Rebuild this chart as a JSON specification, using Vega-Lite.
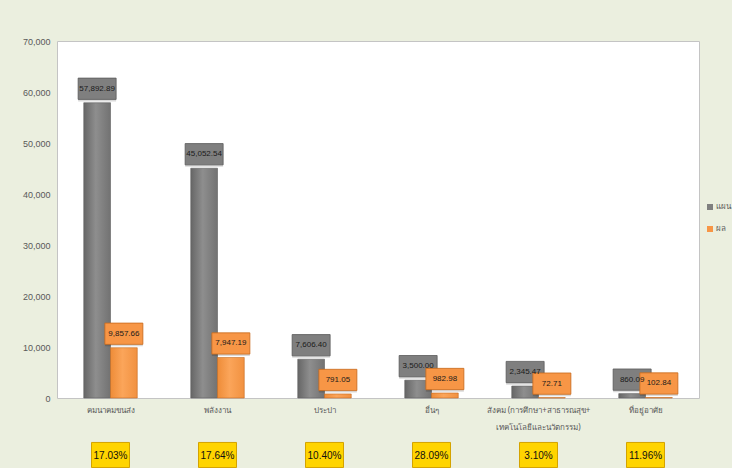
{
  "$schema": "https://vega.github.io/schema/vega-lite/v6.json",
  "autosize": "none",
  "width": 642,
  "height": 357,
  "padding": {"left": 57, "top": 41, "right": 33, "bottom": 70},
  "background": "#ebefdf",
  "config": {
    "view": {"stroke": "#c4c4c4", "fill": "white"},
    "font": "Liberation Sans, sans-serif"
  },
  "datasets": {
    "bars": [
      {"category": "คมนาคมขนส่ง", "series": "แผน", "value": 57892.89},
      {"category": "คมนาคมขนส่ง", "series": "ผล", "value": 9857.66},
      {"category": "พลังงาน", "series": "แผน", "value": 45052.54},
      {"category": "พลังงาน", "series": "ผล", "value": 7947.19},
      {"category": "ประปา", "series": "แผน", "value": 7606.40},
      {"category": "ประปา", "series": "ผล", "value": 791.05},
      {"category": "อื่นๆ", "series": "แผน", "value": 3500.00},
      {"category": "อื่นๆ", "series": "ผล", "value": 982.98},
      {"category": "สังคม (การศึกษา+สาธารณสุข+|เทคโนโลยีและนวัตกรรม)", "series": "แผน", "value": 2345.47},
      {"category": "สังคม (การศึกษา+สาธารณสุข+|เทคโนโลยีและนวัตกรรม)", "series": "ผล", "value": 72.71},
      {"category": "ที่อยู่อาศัย", "series": "แผน", "value": 860.09},
      {"category": "ที่อยู่อาศัย", "series": "ผล", "value": 102.84}
    ],
    "pct": [
      {"category": "คมนาคมขนส่ง", "pct": "17.03%"},
      {"category": "พลังงาน", "pct": "17.64%"},
      {"category": "ประปา", "pct": "10.40%"},
      {"category": "อื่นๆ", "pct": "28.09%"},
      {"category": "สังคม (การศึกษา+สาธารณสุข+|เทคโนโลยีและนวัตกรรม)", "pct": "3.10%"},
      {"category": "ที่อยู่อาศัย", "pct": "11.96%"}
    ]
  },
  "encoding": {
    "x": {
      "field": "category",
      "type": "nominal",
      "sort": null,
      "scale": {"paddingInner": 0.5, "paddingOuter": 0.25},
      "axis": {
        "title": null,
        "labelAngle": 0,
        "domain": false,
        "ticks": false,
        "labelPadding": 8,
        "labelFontSize": 8,
        "labelColor": "#595959",
        "labelLineHeight": 17,
        "labelFont": "Noto Sans, sans-serif",
        "labelExpr": "split(datum.label, '|')"
      }
    }
  },
  "layer": [
    {
      "data": {"name": "bars"},
      "transform": [{"filter": "datum.series == 'แผน'"}],
      "mark": {
        "type": "bar",
        "stroke": "#5e5e5e",
        "strokeWidth": 0.6,
        "color": {
          "gradient": "linear", "x1": 0, "x2": 1, "y1": 0, "y2": 0,
          "stops": [
            {"offset": 0, "color": "#666666"},
            {"offset": 0.45, "color": "#8e8e8e"},
            {"offset": 1, "color": "#727272"}
          ]
        }
      },
      "encoding": {
        "xOffset": {"field": "series", "type": "nominal", "scale": {"domain": ["แผน", "ผล"], "paddingInner": 0}},
        "y": {
          "field": "value",
          "type": "quantitative",
          "scale": {"domain": [0, 70000]},
          "axis": {
            "title": null,
            "grid": false,
            "domain": false,
            "ticks": false,
            "tickCount": 7,
            "format": ",d",
            "labelPadding": 7,
            "labelFontSize": 9,
            "labelColor": "#595959"
          }
        }
      }
    },
    {
      "data": {"name": "bars"},
      "transform": [{"filter": "datum.series == 'ผล'"}],
      "mark": {
        "type": "bar",
        "stroke": "#c46a1f",
        "strokeWidth": 0.6,
        "color": {
          "gradient": "linear", "x1": 0, "x2": 1, "y1": 0, "y2": 0,
          "stops": [
            {"offset": 0, "color": "#ee8c38"},
            {"offset": 0.45, "color": "#fba55a"},
            {"offset": 1, "color": "#f19140"}
          ]
        }
      },
      "encoding": {
        "xOffset": {"field": "series", "type": "nominal"},
        "y": {"field": "value", "type": "quantitative"}
      }
    },
    {
      "data": {"name": "bars"},
      "mark": {
        "type": "point",
        "shape": "M-1,-0.56H1V0.56H-1Z",
        "size": 1444,
        "filled": true,
        "color": "#000000",
        "opacity": 0.15,
        "xOffset": 2,
        "yOffset": -12
      },
      "encoding": {
        "xOffset": {"field": "series", "type": "nominal"},
        "y": {"field": "value", "type": "quantitative"}
      }
    },
    {
      "data": {"name": "bars"},
      "mark": {
        "type": "point",
        "shape": "M-1,-0.56H1V0.56H-1Z",
        "size": 1444,
        "filled": true,
        "opacity": 1,
        "strokeWidth": 0.8,
        "yOffset": -14
      },
      "encoding": {
        "xOffset": {"field": "series", "type": "nominal"},
        "y": {"field": "value", "type": "quantitative"},
        "color": {
          "field": "series",
          "type": "nominal",
          "scale": {"domain": ["แผน", "ผล"], "range": ["#7f7f7f", "#f79646"]},
          "legend": {
            "title": null,
            "orient": "none",
            "legendX": 649,
            "legendY": 162,
            "symbolType": "square",
            "symbolSize": 36,
            "symbolStrokeWidth": 0,
            "labelFontSize": 8,
            "labelColor": "#595959",
            "labelFont": "Noto Sans, sans-serif",
            "rowPadding": 14,
            "labelOffset": 2
          }
        },
        "stroke": {
          "field": "series",
          "type": "nominal",
          "scale": {"domain": ["แผน", "ผล"], "range": ["#5a5a5a", "#c8691c"]},
          "legend": null
        }
      }
    },
    {
      "data": {"name": "bars"},
      "mark": {
        "type": "text",
        "fontSize": 8,
        "color": "#1a1a1a",
        "baseline": "middle",
        "yOffset": -14
      },
      "encoding": {
        "xOffset": {"field": "series", "type": "nominal"},
        "y": {"field": "value", "type": "quantitative"},
        "text": {"field": "value", "type": "quantitative", "format": ",.2f"}
      }
    },
    {
      "data": {"name": "pct"},
      "mark": {
        "type": "point",
        "shape": "M-1,-0.66H1V0.66H-1Z",
        "size": 1444,
        "filled": true,
        "fill": "#ffd400",
        "stroke": "#d4a300",
        "strokeWidth": 1,
        "opacity": 1,
        "yOffset": 57
      },
      "encoding": {
        "y": {"datum": 0, "type": "quantitative"}
      }
    },
    {
      "data": {"name": "pct"},
      "mark": {
        "type": "text",
        "fontSize": 10,
        "color": "#111111",
        "baseline": "middle",
        "yOffset": 58
      },
      "encoding": {
        "y": {"datum": 0, "type": "quantitative"},
        "text": {"field": "pct", "type": "nominal"}
      }
    }
  ]
}
